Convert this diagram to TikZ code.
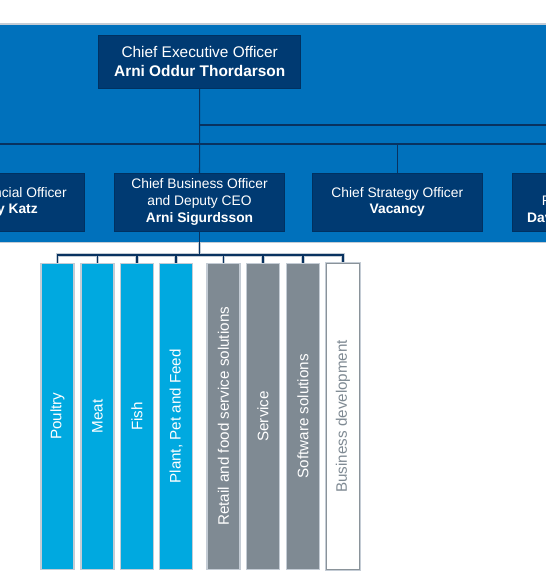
\documentclass[tikz,border=0pt]{standalone}
\usepackage{fontspec}
\setmainfont{Liberation Sans}
\usepackage{tikz}
\pgfdeclarelayer{halo}
\pgfdeclarelayer{panel}
\pgfdeclarelayer{bg}
\pgfsetlayers{halo,panel,bg,main}
\definecolor{panelblue}{RGB}{0,113,188}
\definecolor{boxnavy}{RGB}{0,58,114}
\definecolor{linenavy}{RGB}{8,50,96}
\definecolor{segblue}{RGB}{0,169,224}
\definecolor{slate}{RGB}{127,138,147}
\definecolor{lgray}{RGB}{196,204,213}
\definecolor{bdgray}{RGB}{138,147,154}
\tikzset{
    officer/.style={rectangle, fill=boxnavy, draw=boxnavy!85!black, line width=0.6pt, text=white, minimum width=170pt, minimum height=58pt, inner sep=0pt, align=center, font=\fontsize{13.8}{16.8}\selectfont},
    division/.style={rectangle, rotate=90, minimum width=306pt, minimum height=33pt, inner sep=0pt, draw=lgray, line width=1.4pt, text=white, font=\fontsize{15.2}{18}\selectfont},
    segment/.style={division, fill=segblue},
    solution/.style={division, fill=slate},
    link/.style={draw=linenavy, line width=1.1pt, line cap=rect},
    halo/.style={draw=lgray, line width=3.6pt, line cap=rect}
}

\begin{document}
\begin{tikzpicture}[x=1pt, y=-1pt]
        \useasboundingbox (0,0) rectangle (546,582);
        \node[officer, minimum width=202pt, minimum height=53pt, font=\fontsize{15.4}{19}\selectfont] (ceo) at (199.7,61.7) {Chief Executive Officer\\\textbf{Arni Oddur Thordarson}};
        \node[officer] (cfo) at (-1,202) {Chief Financial Officer\\\textbf{Stacey Katz}};
        \node[officer] (cbo) at (199.5,202) {Chief Business Officer\\and Deputy CEO\\\textbf{Arni Sigurdsson}};
        \node[officer] (cso) at (397.3,202) {Chief Strategy Officer\\\textbf{Vacancy}};
        \node[officer] (chro) at (597,202) {Chief Human\\Resources Officer\\\textbf{David Freyr Oddsson}};
        \node[segment] (d1) at (57.5,416.3) {Poultry};
        \node[segment] (d2) at (97.5,416.3) {Meat};
        \node[segment] (d3) at (137,416.3) {Fish};
        \node[segment] (d4) at (176,416.3) {Plant, Pet and Feed};
        \node[solution] (d5) at (223.5,416.3) {Retail and food service solutions};
        \node[solution] (d6) at (263,416.3) {Service};
        \node[solution] (d7) at (303,416.3) {Software solutions};
        \node[division, fill=white, text=slate, draw=bdgray, line width=1.6pt, preaction={draw=lgray, line width=3.4pt}] (d8) at (343,416.3) {Business development};
        \coordinate (t1) at (199.5,125);
        \coordinate (t1e) at (548,125);
        \coordinate (t2) at (199.5,144);
        \coordinate (b0) at (199.5,255);
        \begin{pgfonlayer}{panel}
                \fill[panelblue] (-2,24) rectangle (548,242);
                \draw[lgray, line width=1.2pt] (-2,24) -- (548,24);
                \draw[lgray, line width=1.5pt] (-2,242.5) -- (548,242.5);
        \end{pgfonlayer}
        \begin{pgfonlayer}{halo}
                \draw (cbo) edge [halo] (b0);
                \draw (b0 -| d1) edge [halo] (b0 -| d8);
                \foreach \i in {1,...,8} \draw (b0 -| d\i) edge [halo] (d\i);
        \end{pgfonlayer}
        \begin{pgfonlayer}{bg}
                \draw (ceo) edge [link] (cbo);
                \draw (t1) edge [link] (t1e);
                \draw (cfo |- t2) edge [link] (chro |- t2);
                \draw (cfo |- t2) edge [link] (cfo);
                \draw (cso |- t2) edge [link] (cso);
                \draw (chro |- t2) edge [link] (chro);
                \draw (cbo) edge [link] (b0);
                \draw (b0 -| d1) edge [link] (b0 -| d8);
                \foreach \i in {1,...,8} \draw (b0 -| d\i) edge [link] (d\i);
        \end{pgfonlayer}
\end{tikzpicture}
\end{document}
